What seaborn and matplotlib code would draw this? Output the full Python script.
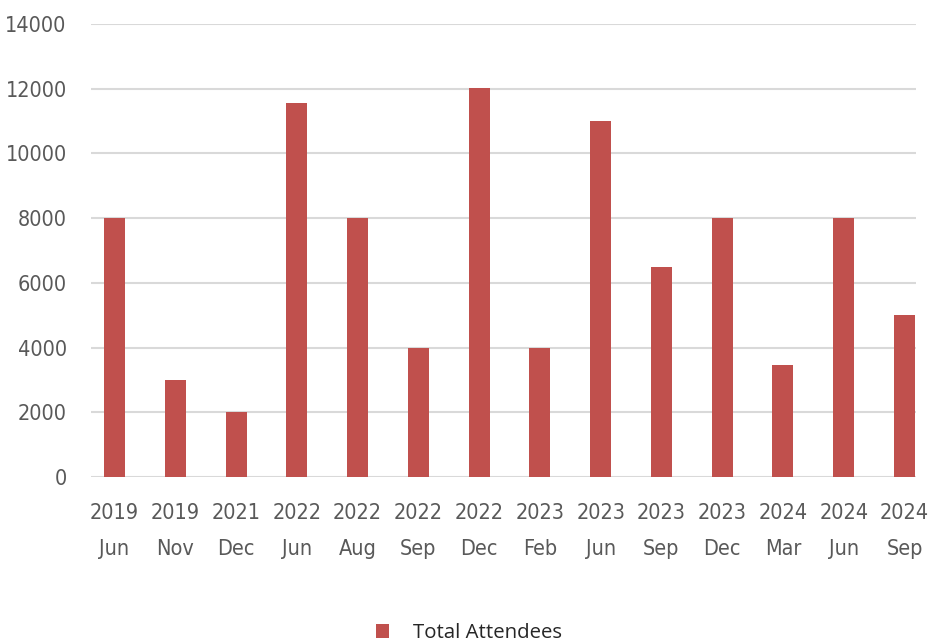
import matplotlib
matplotlib.use("Agg")
import matplotlib.pyplot as plt
from matplotlib import font_manager as fm
import seaborn as sns
import pandas as pd

years = ["2019", "2019", "2021", "2022", "2022", "2022", "2022", "2023", "2023", "2023", "2023", "2024", "2024", "2024"]
months = ["Jun", "Nov", "Dec", "Jun", "Aug", "Sep", "Dec", "Feb", "Jun", "Sep", "Dec", "Mar", "Jun", "Sep"]
attendees = [8000, 3000, 2000, 11550, 8000, 4000, 12030, 4000, 11000, 6500, 8000, 3460, 8000, 5000]
yticks = [0, 2000, 4000, 6000, 8000, 10000, 12000, 14000]
series_name = "Total Attendees"

labels = [f"{y}\n{m}" for y, m in zip(years, months)]
df = pd.DataFrame({"period": labels, "value": attendees})

sns.set_theme(style="white")
plt.rcParams["font.family"] = ["DejaVu Sans"]

# condensed face for the tick labels
tick_fp = None
for f in fm.fontManager.ttflist:
    if f.name == "DejaVu Sans" and f.stretch == "condensed" and f.style == "normal" and f.weight == 400:
        tick_fp = fm.FontProperties(fname=f.fname, size=15.5)
        break
if tick_fp is None:
    tick_fp = fm.FontProperties(family=["Roboto", "DejaVu Sans"], size=16)

fig = plt.figure(figsize=(9.3, 6.43), dpi=100)
ax = fig.add_axes([91 / 930, 1 - 477 / 643, (916 - 91) / 930, (477 - 24) / 643])

sns.barplot(data=df, x="period", y="value", color="#c0504d", width=0.346,
            saturation=1, ax=ax, label=series_name, zorder=3, linewidth=0)

ax.set_ylim(0, 14000)
ax.set_xlim(-0.387, 13.19)
ax.set_yticks(yticks)
ax.set_yticklabels([str(t) for t in yticks])
ax.yaxis.grid(True, color="#d9d9d9", linewidth=1.5, zorder=0)
ax.set_axisbelow(True)
for s in ax.spines.values():
    s.set_visible(False)
ax.set_xlabel("")
ax.set_ylabel("")
ax.tick_params(axis="both", length=0, labelcolor="#595959")
ax.tick_params(axis="y", pad=17.5)
ax.tick_params(axis="x", pad=19)
for t in ax.get_xticklabels() + ax.get_yticklabels():
    t.set_fontproperties(tick_fp)
for t in ax.get_xticklabels():
    t.set_linespacing(1.97)

leg = ax.get_legend()
if leg is not None:
    leg.remove()
handles, lbls = ax.get_legend_handles_labels()
fig.legend(handles[:1], lbls[:1], loc="center", bbox_to_anchor=(469 / 930, 1 - 633 / 643),
           frameon=False, prop={"family": "Open Sans", "size": 14.7},
           handlelength=0.65, handleheight=0.65, handletextpad=1.2, labelcolor="#262626")

fig.savefig("out.png", dpi=100)
